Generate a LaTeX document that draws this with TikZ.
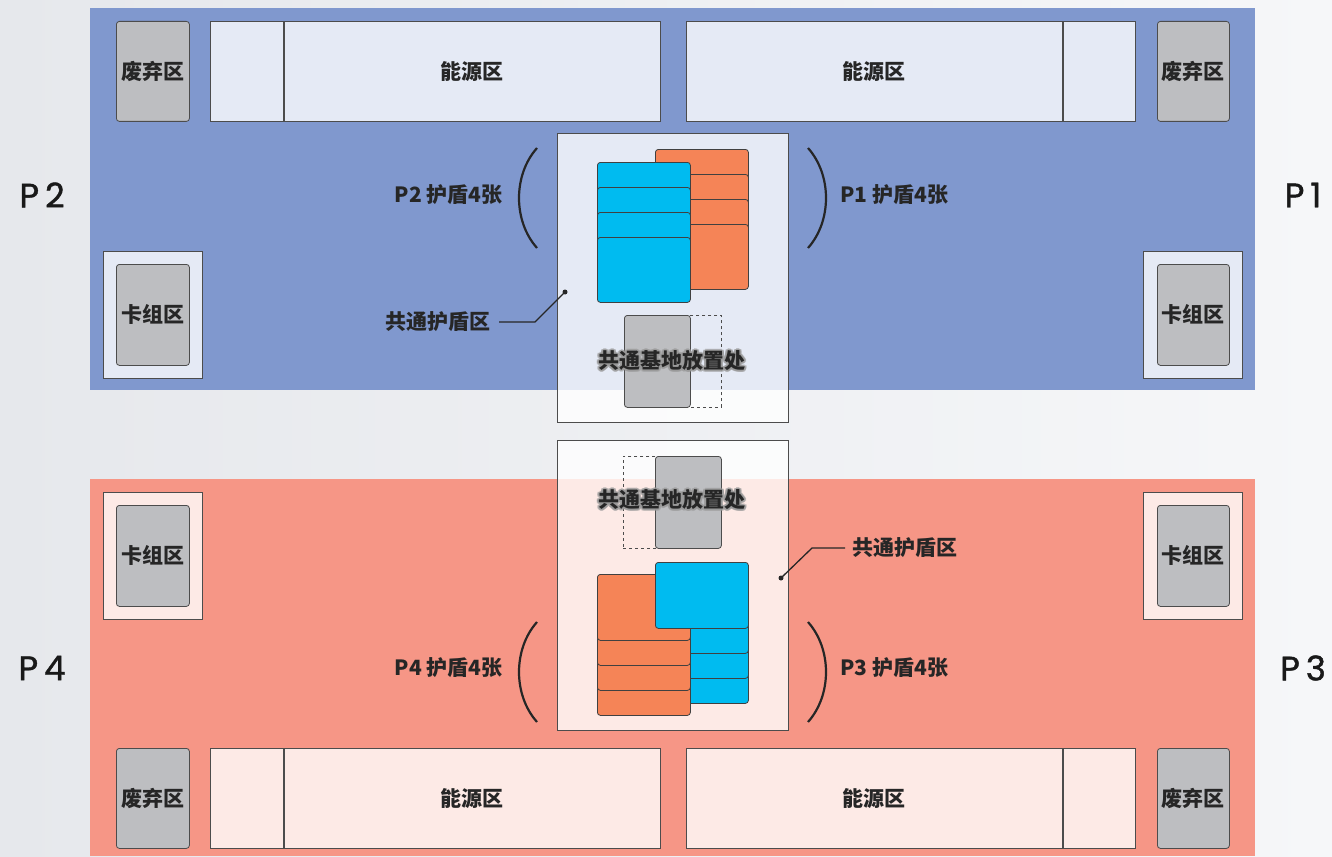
\documentclass[tikz,border=0pt]{standalone}
\usepackage{fontspec}
\setmainfont{Noto Sans CJK SC}
\newfontfamily\pfont{Poppins}[FakeBold=1.2]
\usetikzlibrary{positioning}

\definecolor{bgleft}{HTML}{E6E8EC}
\definecolor{bgright}{HTML}{F6F7F9}
\definecolor{boardblue}{HTML}{8098CE}
\definecolor{boardred}{HTML}{F69686}
\definecolor{pilegrey}{HTML}{BDBEC1}
\definecolor{cardblue}{HTML}{00BBF0}
\definecolor{cardorange}{HTML}{F58457}

\begin{document}
\begin{tikzpicture}[x=1pt,y=-1pt]
  \tikzset{board/.style = {draw=none,inner sep=0pt,anchor=north west}}
  \tikzset{zone/.style = {draw=black!70,line width=0.8pt,fill=white,fill opacity=0.8,text opacity=1,inner sep=0pt,anchor=north west,lbl}}
  \tikzset{pile/.style = {draw=black!70,line width=0.8pt,fill=pilegrey,rounded corners=3pt,inner sep=0pt,anchor=north west,lbl}}
  \tikzset{slot/.style = {draw=black!70,line width=0.8pt,dashed,inner sep=0pt,anchor=north west,minimum width=66pt,minimum height=92pt}}
  \tikzset{card/.style = {draw=black!75,line width=0.8pt,rounded corners=3pt,inner sep=0pt,anchor=north west,minimum width=93pt,minimum height=66pt}}
  \tikzset{lbl/.style = {font=\bfseries\fontsize{21}{23}\selectfont,text=black!85}}
  \tikzset{player/.style = {font=\pfont\fontsize{34}{35}\selectfont,text=black!90}}
  \tikzset{brace/.style = {line width=2.2pt,draw=black!85}}
  \tikzset{halo/.style = {font=\bfseries\fontsize{21}{23}\selectfont,text=gray!80,text opacity=0.55}}

  \useasboundingbox (0,0) rectangle (1332,856);
  \fill[left color=bgleft,right color=bgright] (0,0) rectangle (1332,856);

  \node[board,fill=boardblue,minimum width=1165pt,minimum height=382pt] (btop) at (90,8) {};
  \node[board,fill=boardred,minimum width=1165pt,minimum height=377pt] (bbot) at (90,479) {};

  % top half
  \node[pile,minimum width=73pt,minimum height=100pt] (dis2) at (116,21) {废弃区};
  \node[zone,minimum width=73pt,minimum height=100pt] (en2a) at (210,21) {};
  \node[zone,minimum width=376pt,minimum height=100pt,right=0pt of en2a] (en2b) {能源区};
  \node[zone,minimum width=376pt,minimum height=100pt] (en1b) at (686,21) {能源区};
  \node[zone,minimum width=72pt,minimum height=100pt,right=0pt of en1b] (en1a) {};
  \node[pile,minimum width=72pt,minimum height=100pt] (dis1) at (1157,21) {废弃区};

  \node[zone,minimum width=99pt,minimum height=127pt] (dk2o) at (103,251) {};
  \node[pile,minimum width=73pt,minimum height=101pt] (dk2) at (116,264) {卡组区};
  \node[zone,minimum width=99pt,minimum height=127pt] (dk1o) at (1143,251) {};
  \node[pile,minimum width=72pt,minimum height=101pt] (dk1) at (1157,264) {卡组区};

  \node[zone,minimum width=231pt,minimum height=289pt] (shtop) at (557,133) {};
  \foreach \i in {0,...,3}
    \node[card,fill=cardorange,minimum height=65pt] (to\i) at (655,{149+25*\i}) {};
  \foreach \i in {0,...,3}
    \node[card,fill=cardblue,minimum height=65pt] (tb\i) at (597,{162+25*\i}) {};

  \node[slot] (tslot) at (655,315) {};
  \node[pile,minimum width=66pt,minimum height=92pt] (tbase) at (624,315) {};
  \foreach \a in {0,30,...,330}
    \node[halo,shift={(\a:2pt)}] (th\a) at (672,361) {共通基地放置处};
  \node[lbl] (tbtxt) at (672,361) {共通基地放置处};

  \draw[brace] (537,148) .. controls (513,175) and (513,221) .. (537,248);
  \draw[brace] (808,148) .. controls (832,175) and (832,221) .. (808,248);
  \node[lbl,anchor=east] (sh2) at (506,195) {P2 护盾4张};
  \node[lbl,anchor=west] (sh1) at (837,195) {P1 护盾4张};

  \coordinate (tdot) at (565,292);
  \node[lbl,anchor=east,inner xsep=8pt] (tlead) at (499,322) {共通护盾区};
  \fill[black!85] (tdot) circle (2.5pt);
  \draw[line width=1.3pt,black!85] (tdot) -- ++(-30,30) -- (tlead.east);

  \node[player] (p2) at (42,195) {P\hspace{6pt}2};
  \node[player] (p1) at (1303,195) {P\hspace{6pt}1};

  % bottom half
  \node[zone,minimum width=99pt,minimum height=127pt] (dk4o) at (103,492) {};
  \node[pile,minimum width=73pt,minimum height=101pt] (dk4) at (116,505) {卡组区};
  \node[zone,minimum width=99pt,minimum height=127pt] (dk3o) at (1143,492) {};
  \node[pile,minimum width=72pt,minimum height=101pt] (dk3) at (1157,505) {卡组区};

  \node[pile,minimum width=73pt,minimum height=100pt] (dis4) at (116,748) {废弃区};
  \node[zone,minimum width=73pt,minimum height=100pt] (en4a) at (210,748) {};
  \node[zone,minimum width=376pt,minimum height=100pt,right=0pt of en4a] (en4b) {能源区};
  \node[zone,minimum width=376pt,minimum height=100pt] (en3b) at (686,748) {能源区};
  \node[zone,minimum width=72pt,minimum height=100pt,right=0pt of en3b] (en3a) {};
  \node[pile,minimum width=72pt,minimum height=100pt] (dis3) at (1157,748) {废弃区};

  \node[zone,minimum width=231pt,minimum height=290pt] (shbot) at (557,440) {};
  \node[slot] (bslot) at (623,456) {};
  \node[pile,minimum width=66pt,minimum height=92pt] (bbase) at (655,456) {};
  \foreach \a in {0,30,...,330}
    \node[halo,shift={(\a:2pt)}] (bh\a) at (672,500) {共通基地放置处};
  \node[lbl] (bbtxt) at (672,500) {共通基地放置处};

  \foreach \i in {3,2,1}
    \node[card,fill=cardblue] (bb\i) at (655,{562+25*\i}) {};
  \foreach \i in {3,2,1,0}
    \node[card,fill=cardorange] (bo\i) at (597,{574+25*\i}) {};
  \node[card,fill=cardblue] (bb0) at (655,562) {};

  \draw[brace] (537,622) .. controls (513,649) and (513,695) .. (537,722);
  \draw[brace] (808,622) .. controls (832,649) and (832,695) .. (808,722);
  \node[lbl,anchor=east] (sh4) at (506,668) {P4 护盾4张};
  \node[lbl,anchor=west] (sh3) at (837,668) {P3 护盾4张};

  \coordinate (bdot) at (781,578);
  \node[lbl,anchor=west,inner xsep=7pt] (blead) at (845,548) {共通护盾区};
  \fill[black!85] (bdot) circle (2.5pt);
  \draw[line width=1.3pt,black!85] (bdot) -- ++(31,-30) -- (blead.west);

  \node[player] (p4) at (42,668) {P\hspace{6pt}4};
  \node[player] (p3) at (1303,668) {P\hspace{6pt}3};

\end{tikzpicture}
\end{document}
